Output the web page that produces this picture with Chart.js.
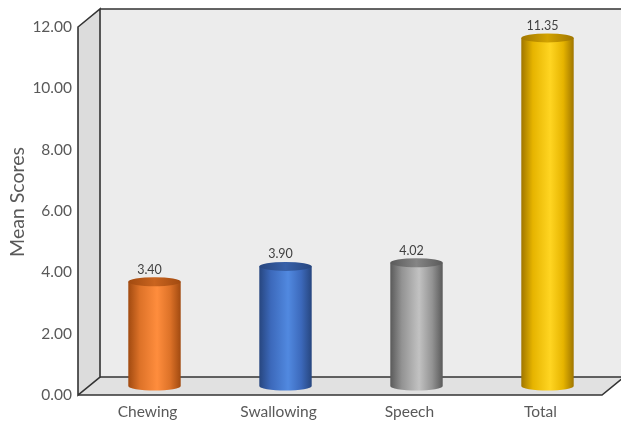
<!DOCTYPE html>
<html>
<head>
<meta charset="utf-8">
<script src="https://cdn.jsdelivr.net/npm/chart.js@4.4.1/dist/chart.umd.min.js"></script>
<style>
  html, body { margin: 0; padding: 0; background: #fff; }
  #wrap { width: 621px; height: 422px; }
</style>
</head>
<body>
<div id="wrap"><canvas id="scoresChart"></canvas></div>
<script>
const categories = ['Chewing', 'Swallowing', 'Speech', 'Total'];
const meanScores = [3.40, 3.90, 4.02, 11.35];

// cylinder shading: [edge, mid, highlight, top cap]
const cylinderColors = [
    ['#a14a10', '#dd7228', '#ff8d3d', '#c9641f'],
    ['#27467f', '#3c69bb', '#5189e0', '#3760a8'],
    ['#5a5a5a', '#939393', '#c2c2c2', '#858585'],
    ['#a07600', '#e6b400', '#ffd522', '#d2a200']
];

const FONT = 'Lato, "Open Sans", sans-serif';

// depth of the 3D box
const DX = 22;
const DY = -18;
const CAP_RY = 4.5;

function poly(ctx, pts) {
    ctx.beginPath();
    ctx.moveTo(pts[0][0], pts[0][1]);
    for (let i = 1; i < pts.length; i++) ctx.lineTo(pts[i][0], pts[i][1]);
    ctx.closePath();
}

const boxPlugin = {
    id: 'box3d',
    beforeDatasetsDraw(chart) {
        const ctx = chart.ctx;
        const area = chart.chartArea;
        const y = chart.scales.y;
        const top = y.getPixelForValue(y.max);
        const bottom = y.getPixelForValue(0);
        const left = area.left;
        const right = area.right;

        ctx.save();
        // back wall
        ctx.fillStyle = '#ececec';
        ctx.fillRect(left + DX, top + DY, chart.width - left - DX + 5, bottom - top);
        // left side wall
        ctx.fillStyle = '#dcdcdc';
        poly(ctx, [[left, top], [left + DX, top + DY], [left + DX, bottom + DY], [left, bottom]]);
        ctx.fill();
        // floor
        ctx.fillStyle = '#e1e1e1';
        poly(ctx, [[left, bottom], [right, bottom], [right + DX, bottom + DY], [left + DX, bottom + DY]]);
        ctx.fill();

        ctx.strokeStyle = '#333333';
        ctx.lineWidth = 1.6;
        ctx.lineJoin = 'miter';
        poly(ctx, [[left, top], [left + DX, top + DY], [left + DX, bottom + DY], [left, bottom]]);
        ctx.stroke();
        ctx.beginPath();
        ctx.moveTo(left + DX, top + DY);
        ctx.lineTo(chart.width + 2, top + DY);
        ctx.moveTo(left + DX, bottom + DY);
        ctx.lineTo(chart.width + 2, bottom + DY);
        ctx.moveTo(left, bottom);
        ctx.lineTo(right, bottom);
        ctx.lineTo(right + DX, bottom + DY);
        ctx.stroke();

        // axis title
        ctx.translate(17.5, (top + DY + bottom) / 2);
        ctx.rotate(-Math.PI / 2);
        ctx.fillStyle = '#595959';
        ctx.font = '19.5px ' + FONT;
        ctx.textAlign = 'center';
        ctx.textBaseline = 'middle';
        ctx.fillText('Mean Scores', 0, 0);
        ctx.restore();
    },
    afterDatasetsDraw(chart) {
        const ctx = chart.ctx;
        const y = chart.scales.y;
        const meta = chart.getDatasetMeta(0);
        meta.data.forEach((bar, i) => {
            const c = cylinderColors[i];
            const cx = bar.x + DX / 2;
            const rx = bar.width / 2;
            const yBase = y.getPixelForValue(0) + DY / 2;
            const yTop = y.getPixelForValue(meanScores[i]) + DY / 2;

            ctx.save();
            const g = ctx.createLinearGradient(cx - rx, 0, cx + rx, 0);
            g.addColorStop(0, c[0]);
            g.addColorStop(0.22, c[1]);
            g.addColorStop(0.55, c[2]);
            g.addColorStop(0.8, c[1]);
            g.addColorStop(1, c[0]);
            ctx.fillStyle = g;
            ctx.beginPath();
            ctx.moveTo(cx - rx, yTop);
            ctx.lineTo(cx - rx, yBase);
            ctx.ellipse(cx, yBase, rx, CAP_RY, 0, Math.PI, 0, true);
            ctx.lineTo(cx + rx, yTop);
            ctx.closePath();
            ctx.fill();

            // top cap
            const gc = ctx.createLinearGradient(cx - rx, 0, cx + rx, 0);
            gc.addColorStop(0, c[0]);
            gc.addColorStop(0.5, c[3]);
            gc.addColorStop(1, c[0]);
            ctx.fillStyle = gc;
            ctx.beginPath();
            ctx.ellipse(cx, yTop, rx, CAP_RY, 0, 0, Math.PI * 2);
            ctx.fill();

            // value label
            ctx.fillStyle = '#404040';
            ctx.font = '12.5px ' + FONT;
            ctx.textAlign = 'center';
            ctx.textBaseline = 'middle';
            ctx.fillText(meanScores[i].toFixed(2), cx - 5, yTop - 12);
            ctx.restore();
        });
    }
};

new Chart(document.getElementById('scoresChart'), {
    type: 'bar',
    data: {
        labels: categories,
        datasets: [{
            data: meanScores,
            backgroundColor: 'rgba(0,0,0,0)',
            borderWidth: 0,
            barPercentage: 0.4,
            categoryPercentage: 1
        }]
    },
    options: {
        responsive: true,
        maintainAspectRatio: false,
        animation: false,
        layout: { padding: { top: 27, right: 19, left: 0, bottom: 0 } },
        plugins: {
            legend: { display: false },
            tooltip: { enabled: false }
        },
        scales: {
            x: {
                grid: { display: false, drawTicks: false },
                border: { display: false },
                ticks: {
                    color: '#595959',
                    font: { family: FONT, size: 15.5 },
                    padding: 8,
                    labelOffset: 4
                },
                afterFit(scale) { scale.height = 27; }
            },
            y: {
                min: 0,
                max: 12,
                grid: { display: false, drawTicks: false },
                border: { display: false },
                ticks: {
                    stepSize: 2,
                    color: '#595959',
                    font: { family: FONT, size: 15.5 },
                    padding: 6,
                    callback: v => v.toFixed(2)
                },
                afterFit(scale) { scale.width = 78; }
            }
        }
    },
    plugins: [boxPlugin]
});
</script>
</body>
</html>
